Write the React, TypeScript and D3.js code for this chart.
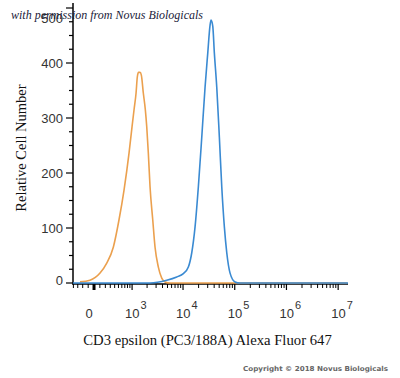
import React from 'react';
import * as d3 from 'd3';

// Flow cytometry histogram: CD3 epsilon (PC3/188A) Alexa Fluor 647
const COFACTOR = 380; // arcsinh (biexponential-like) display cofactor

const isotypeFluor = [-253, -68, 103, 227, 368, 516, 673, 863, 997, 1097, 1205, 1280, 1353, 1450, 1539, 1687, 1847, 1969, 2117, 2286, 2582, 2864, 3321, 3867, 4480, 5605, 20000, 1000000, 15000000];
const isotypeCount = [2, 5, 18, 36, 65, 115, 169, 236, 284, 315, 345, 375, 383, 383, 378, 345, 315, 284, 236, 175, 115, 65, 29, 9, 2, 0, 0, 0, 0];

const cd3Fluor = [-410, 2286, 4836, 7558, 10143, 12674, 14749, 17083, 19791, 23028, 26670, 30077, 33330, 34850, 37580, 40360, 44910, 50430, 56100, 63000, 70110, 81220, 101400, 126700, 15500000];
const cd3Count = [0, 0, 5, 11, 17, 29, 55, 102, 175, 265, 356, 418, 469, 478, 467, 418, 356, 265, 175, 102, 55, 18, 2, 0, 0];

const xMajorValues = [1e3, 1e4, 1e5, 1e6, 1e7];
const xMajorExponents = ['3', '4', '5', '6', '7'];
const xLinearMinor = [-400, -300, -200, -100, 100, 200, 300, 400, 500, 600, 700, 800, 900];
const yMajorTicks = [0, 100, 200, 300, 400, 500];

const X_DOMAIN = [-410, 15500000];
const Y_DOMAIN = [0, 500];

export default function App() {
  const tx = (v: number) => Math.asinh(v / COFACTOR);
  const xT = d3.scaleLinear().domain([tx(X_DOMAIN[0]), tx(X_DOMAIN[1])]).range([73, 348]);
  const x = (v: number) => xT(tx(v));
  const y = d3.scaleLinear().domain(Y_DOMAIN).range([283, 8]);

  const axisY = y(0) + 1;
  const axisX = 73;

  const line = d3
    .line<[number, number]>()
    .x((d) => x(d[0]))
    .y((d) => y(d[1]))
    .curve(d3.curveMonotoneX);

  const isoData: [number, number][] = isotypeFluor.map((f, i) => [f, isotypeCount[i]]);
  const cd3Data: [number, number][] = cd3Fluor.map((f, i) => [f, cd3Count[i]]);

  const logMinor: number[] = [];
  for (let e = 3; e < 7; e++) {
    for (let k = 2; k <= 9; k++) logMinor.push(k * Math.pow(10, e));
  }
  const xMinor = [...xLinearMinor, ...logMinor];

  const yMinor = d3.range(25, 500, 25).filter((v) => v % 100 !== 0);

  const sans = 'Arial, "Liberation Sans", sans-serif';
  const serif = '"Times New Roman", "Liberation Serif", serif';

  // end labels are nudged inward along the axis (as in the source software)
  const yLabelPos = (v: number) => (v === 0 ? y(v) + 2 : v === 500 ? y(v) + 15 : y(v) + 4.5);

  return (
    <svg
      width={400}
      height={378}
      viewBox="0 0 400 378"
      style={{ position: 'absolute', left: 0, top: 0, background: '#fff' }}
    >
      <rect x={0} y={0} width={400} height={378} fill="#fff" />

      {/* Y axis */}
      <line x1={axisX} x2={axisX} y1={3} y2={axisY + 1} stroke="#000" strokeWidth={1.5} />
      {yMajorTicks.map((v) => (
        <g key={'ym' + v}>
          <line x1={axisX - 7} x2={axisX} y1={y(v)} y2={y(v)} stroke="#000" strokeWidth={1.2} />
          <text x={63} y={yLabelPos(v)} textAnchor="end" fontFamily={sans} fontSize={13} fill="#333">
            {v}
          </text>
        </g>
      ))}
      {yMinor.map((v) => (
        <line key={'yn' + v} x1={axisX - 4} x2={axisX} y1={y(v)} y2={y(v)} stroke="#000" strokeWidth={1.2} />
      ))}

      {/* X axis */}
      <line x1={axisX} x2={348} y1={axisY} y2={axisY} stroke="#000" strokeWidth={1.5} />
      {xMinor.map((v) => (
        <line key={'xn' + v} x1={x(v)} x2={x(v)} y1={axisY} y2={axisY + 4} stroke="#000" strokeWidth={1} />
      ))}
      <line x1={x(0)} x2={x(0)} y1={axisY} y2={axisY + 6} stroke="#000" strokeWidth={3} />
      {xMajorValues.map((v) => (
        <line key={'xm' + v} x1={x(v)} x2={x(v)} y1={axisY} y2={axisY + 6} stroke="#000" strokeWidth={1.2} />
      ))}
      <text x={x(0) - 5} y={318} textAnchor="middle" fontFamily={sans} fontSize={13} fill="#333">
        0
      </text>
      {xMajorValues.map((v, i) => (
        <text key={'xl' + v} x={x(v) - 7} y={318} fontFamily={sans} fontSize={13} fill="#333">
          10
          <tspan dx={1} dy={-9} fontSize={11}>
            {xMajorExponents[i]}
          </tspan>
        </text>
      ))}

      {/* Curves */}
      <path d={line(isoData) || ''} fill="none" stroke="#EBA04E" strokeWidth={1.6} />
      <path d={line(cd3Data) || ''} fill="none" stroke="#3A8AD2" strokeWidth={1.6} />

      {/* Axis titles */}
      <text
        transform="translate(26,148) rotate(-90)"
        textAnchor="middle"
        fontFamily={serif}
        fontSize={14.5}
        fill="#111"
      >
        Relative Cell Number
      </text>
      <text x={207.5} y={345} textAnchor="middle" fontFamily={serif} fontSize={14.7} fill="#111">
        CD3 epsilon (PC3/188A) Alexa Fluor 647
      </text>

      {/* Watermark / copyright */}
      <text
        x={11}
        y={19}
        fontFamily={serif}
        fontStyle="italic"
        fontSize={12.5}
        fill="#1b1b3a"
        textLength={192}
        lengthAdjust="spacingAndGlyphs"
      >
        with permission from Novus Biologicals
      </text>
      <text
        x={243}
        y={371}
        fontFamily='"DejaVu Sans", Verdana, sans-serif'
        fontSize={6.8}
        fontWeight="bold"
        fill="#666"
        textLength={145}
        lengthAdjust="spacingAndGlyphs"
      >
        Copyright © 2018 Novus Biologicals
      </text>
    </svg>
  );
}
